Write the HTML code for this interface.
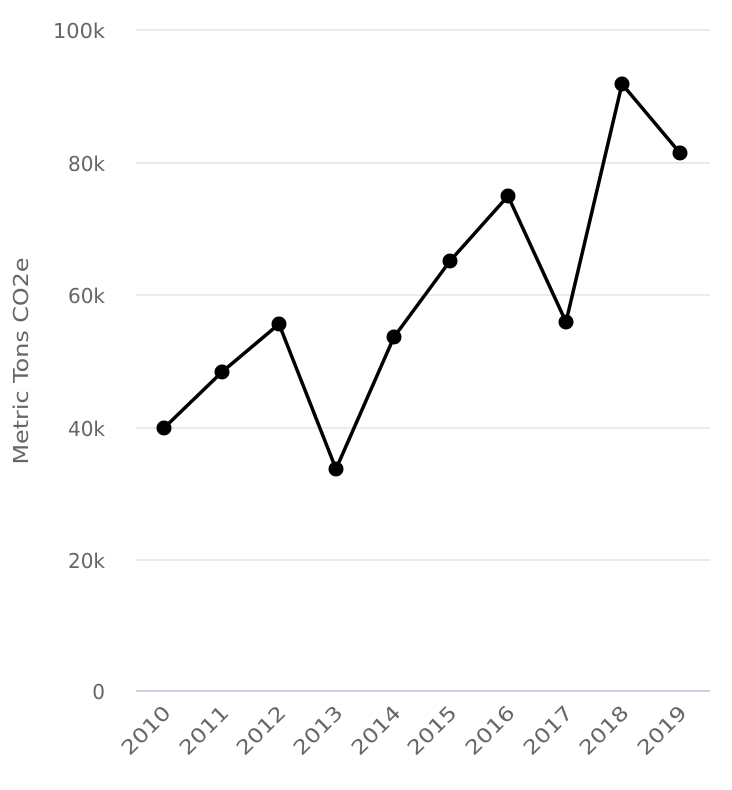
<!DOCTYPE html>
<html><head><style>html,body{margin:0;padding:0;background:#fff}svg{display:block}</style></head>
<body>
<svg width="732" height="790" viewBox="0 0 732 790" xmlns="http://www.w3.org/2000/svg" font-family="'DejaVu Sans','Liberation Sans',sans-serif" fill="#666">
<g stroke="#e3e3e3" stroke-width="1.5">
<line x1="136" y1="30" x2="710" y2="30"/>
<line x1="136" y1="163" x2="710" y2="163"/>
<line x1="136" y1="295" x2="710" y2="295"/>
<line x1="136" y1="428" x2="710" y2="428"/>
<line x1="136" y1="560" x2="710" y2="560"/>
</g>
<line x1="136" y1="691" x2="710" y2="691" stroke="#c8d3e6" stroke-width="2"/>
<g font-size="20" text-anchor="end">
<text x="105" y="38" textLength="52" lengthAdjust="spacingAndGlyphs">100k</text>
<text x="105" y="171">80k</text>
<text x="105" y="303">60k</text>
<text x="105" y="436">40k</text>
<text x="105" y="568">20k</text>
<text x="105" y="699">0</text>
</g>
<text transform="translate(28,361) rotate(-90)" font-size="20" text-anchor="middle" textLength="207" lengthAdjust="spacingAndGlyphs">Metric Tons CO2e</text>
<g font-size="20" text-anchor="end">
<text transform="translate(172,714) rotate(-45)" textLength="60" lengthAdjust="spacingAndGlyphs">2010</text>
<text transform="translate(230,714) rotate(-45)" textLength="60" lengthAdjust="spacingAndGlyphs">2011</text>
<text transform="translate(287,714) rotate(-45)" textLength="60" lengthAdjust="spacingAndGlyphs">2012</text>
<text transform="translate(344,714) rotate(-45)" textLength="60" lengthAdjust="spacingAndGlyphs">2013</text>
<text transform="translate(402,714) rotate(-45)" textLength="60" lengthAdjust="spacingAndGlyphs">2014</text>
<text transform="translate(458,714) rotate(-45)" textLength="60" lengthAdjust="spacingAndGlyphs">2015</text>
<text transform="translate(516,714) rotate(-45)" textLength="60" lengthAdjust="spacingAndGlyphs">2016</text>
<text transform="translate(574,714) rotate(-45)" textLength="60" lengthAdjust="spacingAndGlyphs">2017</text>
<text transform="translate(630,714) rotate(-45)" textLength="60" lengthAdjust="spacingAndGlyphs">2018</text>
<text transform="translate(688,714) rotate(-45)" textLength="60" lengthAdjust="spacingAndGlyphs">2019</text>
</g>
<polyline fill="none" stroke="#000" stroke-width="3.5" stroke-linejoin="round" points="164,428 222,372 279,324 336,469 394,337 450,261 508,196 566,322 622,84 680,153"/>
<g fill="#000">
<circle cx="164" cy="428" r="7.5"/><circle cx="222" cy="372" r="7.5"/><circle cx="279" cy="324" r="7.5"/><circle cx="336" cy="469" r="7.5"/><circle cx="394" cy="337" r="7.5"/><circle cx="450" cy="261" r="7.5"/><circle cx="508" cy="196" r="7.5"/><circle cx="566" cy="322" r="7.5"/><circle cx="622" cy="84" r="7.5"/><circle cx="680" cy="153" r="7.5"/>
</g>
</svg>
</body></html>
